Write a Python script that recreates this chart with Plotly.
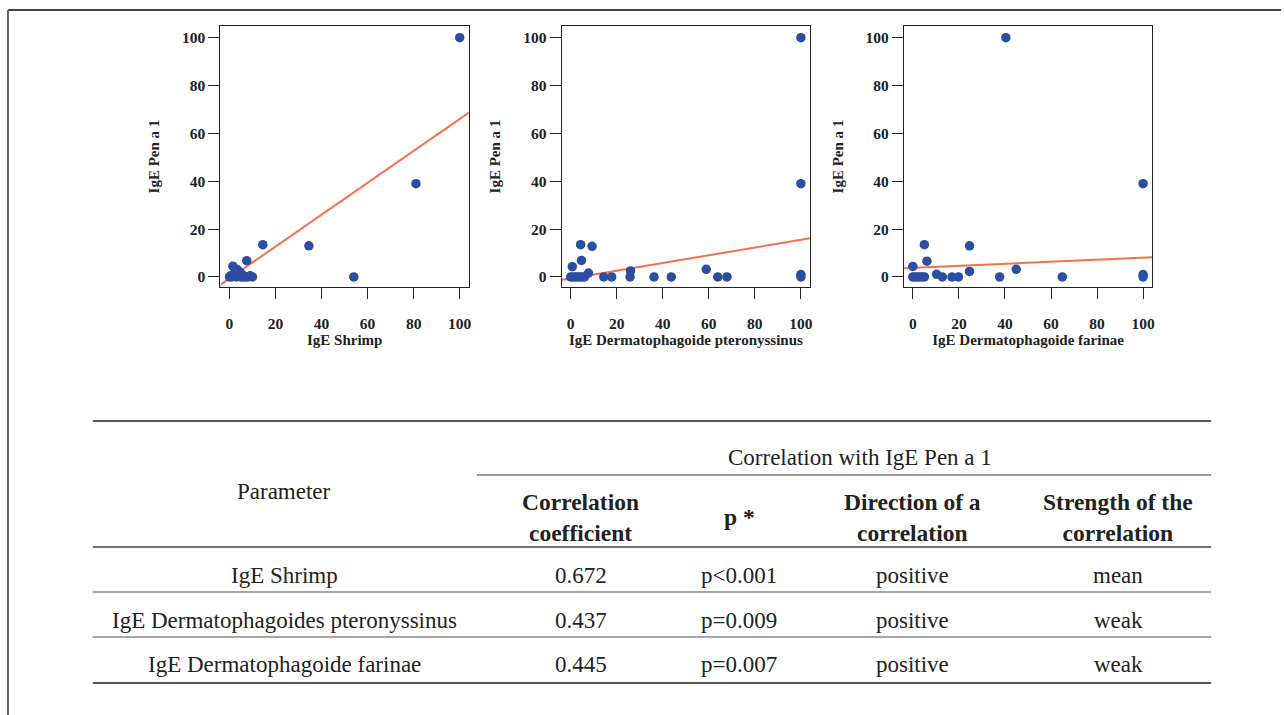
import plotly.graph_objects as go

W, H = 1284, 715

# ---------------- data ----------------
shrimp_x = [100, 81, 54, 34.5, 14.5, 7.5, 1.5, 0, 0.5, 1, 2, 2.5, 3, 3.5, 4, 4.5, 5, 5.5, 6, 7, 8, 9, 10]
shrimp_y = [100, 39, 0, 13, 13.5, 6.8, 4.5, 0, 0.5, 0, 1, 2.5, 0, 3, 0.5, 2, 0, 1, 0, 0, 0, 0.5, 0]

pter_x = [100, 100, 100, 100, 4.3, 9.3, 4.7, 0.7, 0, 1, 2, 3, 4, 5, 6, 7.7, 14.4, 17.8, 25.8, 26, 36.2, 43.7, 58.9, 63.9, 67.9]
pter_y = [100, 39, 0, 1, 13.5, 12.8, 6.9, 4.3, 0, 0, 0, 0, 0, 0, 0, 1.6, 0, 0, 0, 2.5, 0, 0, 3.2, 0, 0]

farinae_x = [40.4, 100, 100, 100, 5.0, 6.1, 0, 0, 1, 2, 3, 4, 5, 10.3, 12.8, 17, 19.8, 24.6, 24.6, 37.7, 44.9, 64.9]
farinae_y = [100, 39, 0, 1, 13.5, 6.6, 4.4, 0, 0, 0, 0, 0, 0, 1.1, 0, 0, 0, 13, 2.3, 0, 3.2, 0]

fit_x = [-4, 104]
shrimp_fit = [-3.3, 68.7]
pter_fit = [-1.3, 16.2]
farinae_fit = [3.6, 8.2]

x_titles = ["IgE Shrimp", "IgE Dermatophagoide pteronyssinus", "IgE Dermatophagoide farinae"]
y_title = "IgE Pen a 1"
tick_vals = [0, 20, 40, 60, 80, 100]

table_group_header = "Correlation with IgE Pen a 1"
table_param_header = "Parameter"
table_col_headers = ["Correlation<br>coefficient", "p *", "Direction of a<br>correlation", "Strength of the<br>correlation"]
parameters = ["IgE Shrimp", "IgE Dermatophagoides pteronyssinus", "IgE Dermatophagoide farinae"]
coefficients = ["0.672", "0.437", "0.445"]
p_values = ["p<0.001", "p=0.009", "p=0.007"]
directions = ["positive", "positive", "positive"]
strengths = ["mean", "weak", "weak"]

# ---------------- styles ----------------
PT = "#2B4DA2"
LN = "#F4714D"
SERIF = "Liberation Serif"

def px(x):
    return x / W

def py(y):
    return 1 - y / H

fig = go.Figure()

panels = [(shrimp_x, shrimp_y, shrimp_fit), (pter_x, pter_y, pter_fit), (farinae_x, farinae_y, farinae_fit)]
lefts = [221, 563, 906]
pw = 249
top, bottom = 26, 287

for i, (xs, ys, fit) in enumerate(panels):
    ax = "" if i == 0 else str(i + 1)
    fig.add_trace(go.Scatter(x=fit_x, y=fit, mode="lines", xaxis="x" + ax, yaxis="y" + ax,
                             line=dict(color=LN, width=2), showlegend=False))
    fig.add_trace(go.Scatter(x=xs, y=ys, mode="markers", xaxis="x" + ax, yaxis="y" + ax,
                             marker=dict(color=PT, size=9.5, line=dict(width=0)), showlegend=False))
    common = dict(showgrid=False, zeroline=False, showline=True, mirror=True, linecolor="#222", linewidth=1.3,
                  ticks="outside", ticklen=11, tickwidth=1.3, tickcolor="#222", tickvals=tick_vals,
                  tickfont=dict(family=SERIF, size=15.5, color="#222", weight="bold"),
                  title_font=dict(family=SERIF, size=15, color="#222", weight="bold"))
    fig.update_layout(**{
        "xaxis" + ax: dict(domain=[px(lefts[i]), px(lefts[i] + pw)], range=[-3.9, 104], anchor="y" + ax,
                           title=dict(text=x_titles[i], standoff=2), ticklabelstandoff=11, **common),
        "yaxis" + ax: dict(domain=[py(bottom), py(top)], range=[-4.2, 104.9], anchor="x" + ax,
                           title=dict(text=y_title, standoff=18), **common),
    })

shapes = []
# outer frame
shapes.append(dict(type="line", xref="paper", yref="paper", x0=px(8), x1=1, y0=py(10), y1=py(10),
                   line=dict(color="#444", width=2)))
shapes.append(dict(type="line", xref="paper", yref="paper", x0=px(8), x1=px(8), y0=py(10), y1=0,
                   line=dict(color="#666", width=2)))
# table rules
rules = [(93, 1214, 421, "#222", 1.5), (478, 1214, 475, "#777", 1.5), (93, 1214, 547, "#777", 2),
         (93, 1214, 592, "#888", 1.5), (93, 1214, 637, "#888", 1.5), (93, 1214, 683, "#555", 2)]
for x0, x1, y, c, w in rules:
    shapes.append(dict(type="line", xref="paper", yref="paper", x0=px(x0), x1=px(x1), y0=py(y), y1=py(y),
                       line=dict(color=c, width=w)))

ann = []
def txt(x, y, t, bold=False):
    ann.append(dict(x=px(x), y=py(y), xref="paper", yref="paper", text=t, showarrow=False,
                    xanchor="center", yanchor="middle",
                    font=dict(family=SERIF, size=23.5 if bold else 23, color="#222",
                              weight="bold" if bold else "normal")))

txt(862, 457, table_group_header)
txt(285, 492, table_param_header)
col_x = [582, 741, 915, 1121]
for cx, h in zip(col_x, table_col_headers):
    txt(cx, 517, h, bold=True)
row_y = [575, 620, 664]
for j, ry in enumerate(row_y):
    txt(285, ry, parameters[j])
    txt(col_x[0], ry, coefficients[j])
    txt(col_x[1], ry, p_values[j])
    txt(col_x[2], ry, directions[j])
    txt(col_x[3], ry, strengths[j])

fig.update_layout(width=W, height=H, margin=dict(l=0, r=0, t=0, b=0), paper_bgcolor="white",
                  plot_bgcolor="white", shapes=shapes, annotations=ann, showlegend=False)

fig.write_html("out.html")
